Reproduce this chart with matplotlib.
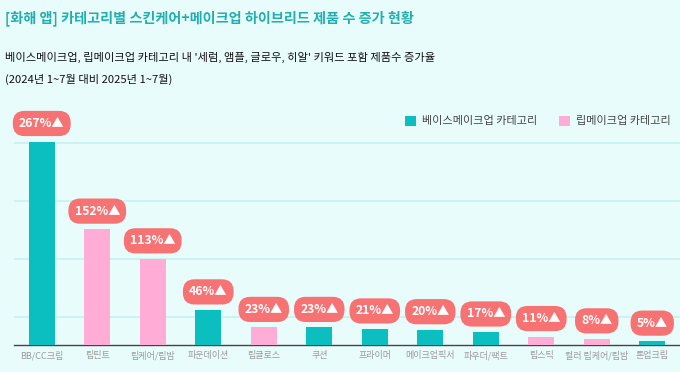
import matplotlib
matplotlib.use("Agg")
import matplotlib.pyplot as plt
from matplotlib.patches import Patch

plt.rcParams['font.family'] = ['Noto Sans CJK KR', 'DejaVu Sans']

# data
categories = ['BB/CC크림', '립틴트', '립케어/립밤', '파운데이션', '립글로스', '쿠션',
              '프라이머', '메이크업픽서', '파우더/팩트', '립스틱', '컬러 립케어/립밤', '톤업크림']
growth = [267, 152, 113, 46, 23, 23, 21, 20, 17, 11, 8, 5]
group = ['base', 'lip', 'lip', 'base', 'lip', 'base',
         'base', 'base', 'base', 'lip', 'lip', 'base']
group_names = {'base': '베이스메이크업 카테고리', 'lip': '립메이크업 카테고리'}

TEAL = '#0BBFC1'
PINK = '#FFADD6'
PILL = '#F77373'
BG = '#E9FCFC'
colors = {'base': TEAL, 'lip': PINK}

fig = plt.figure(figsize=(6.8, 3.72), dpi=100, facecolor=BG)
ax = fig.add_axes([14 / 680, 27 / 372, 666 / 680, 245 / 372])
ax.set_facecolor(BG)

x = list(range(len(categories)))
ax.bar(x, growth, width=0.47, color=[colors[g] for g in group], zorder=3)

ax.set_xlim(-0.5, len(categories) - 0.5)
ax.set_ylim(0, 321.5)

# light horizontal grid
for gy in [37, 113, 189, 265]:
    ax.axhline(gy, color='#CDF2F2', lw=1.4, zorder=1)

for s in ['top', 'right', 'left']:
    ax.spines[s].set_visible(False)
ax.spines['bottom'].set_color('#444444')
ax.spines['bottom'].set_linewidth(1)
ax.set_yticks([])
ax.set_xticks(x)
ax.set_xticklabels(categories, fontsize=6.5, color='#9A9A9A')
ax.tick_params(axis='x', length=0, pad=4)

# red pill labels
for xi, v in zip(x, growth):
    ax.annotate(f'{v}%▲', (xi, v), xytext=(0, 13), textcoords='offset points',
                ha='center', va='center', fontsize=8.8, fontweight='bold', color='white',
                bbox=dict(boxstyle='round,pad=0.5,rounding_size=0.95', fc=PILL, ec='none'),
                zorder=4)

handles = [Patch(facecolor=TEAL, label=group_names['base']),
           Patch(facecolor=PINK, label=group_names['lip'])]
fig.legend(handles=handles, loc='center left', bbox_to_anchor=(395 / 680, 1 - 121 / 372),
           ncol=2, frameon=False, fontsize=8, handlelength=1.0, handleheight=1.0,
           handletextpad=0.5, columnspacing=2.0, labelcolor='#444444')

fig.text(5 / 680, 1 - 18 / 372, '[화해 앱] 카테고리별 스킨케어+메이크업 하이브리드 제품 수 증가 현황',
         fontsize=10.2, fontweight='bold', color='#20AFB0', va='center', ha='left')
fig.text(5 / 680, 1 - 57 / 372, "베이스메이크업, 립메이크업 카테고리 내 '세럼, 앰플, 글로우, 히알' 키워드 포함 제품수 증가율",
         fontsize=8.1, color='#111111', va='center', ha='left')
fig.text(5 / 680, 1 - 79 / 372, '(2024년 1~7월 대비 2025년 1~7월)',
         fontsize=8.1, color='#111111', va='center', ha='left')

fig.savefig('out.png', dpi=100, facecolor=BG)
